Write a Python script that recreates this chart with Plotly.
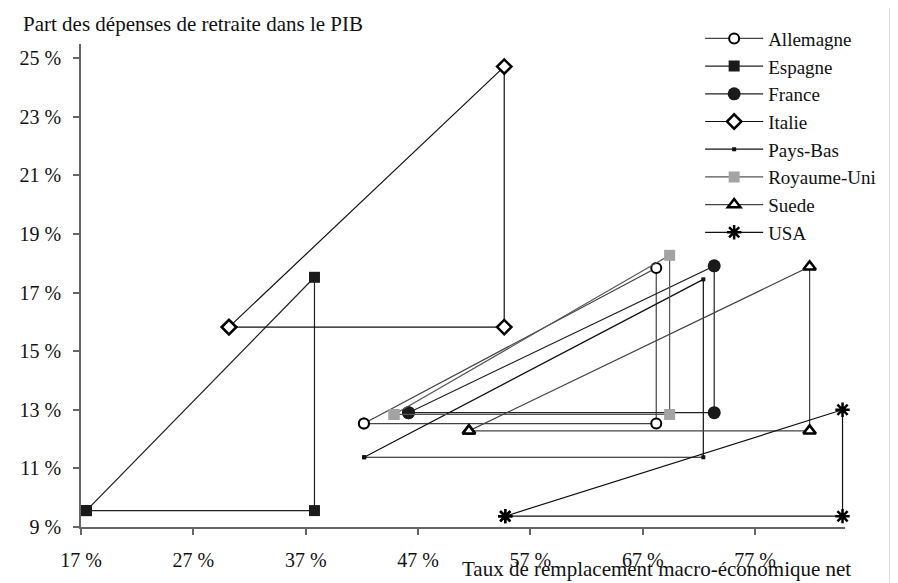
import plotly.graph_objects as go

countries = ["Allemagne", "Espagne", "France", "Italie", "Pays-Bas", "Royaume-Uni", "Suede", "USA"]
x_left = [42.18, 17.48, 46.15, 30.17, 42.20, 44.86, 51.53, 54.76]
y_left = [12.53, 9.56, 12.90, 15.82, 11.38, 12.84, 12.28, 9.37]
x_right = [68.20, 37.78, 73.36, 54.67, 72.39, 69.39, 81.85, 84.78]
y_right_top = [17.84, 17.52, 17.91, 24.71, 17.45, 18.27, 17.88, 13.00]
y_right_bottom = [12.53, 9.56, 12.90, 15.82, 11.38, 12.84, 12.28, 9.37]

x_ticks = [17, 27, 37, 47, 57, 67, 77]
y_ticks = [9, 11, 13, 15, 17, 19, 21, 23, 25]
x_title = "Taux de remplacement macro-économique net"
y_title = "Part des dépenses de retraite dans le PIB"

styles = {
    "Allemagne": dict(symbol="circle", size=10, color="white", line=dict(color="black", width=2), lc="#444"),
    "Espagne": dict(symbol="square", size=11, color="#1a1a1a", line=dict(color="#1a1a1a", width=0), lc="#222"),
    "France": dict(symbol="circle", size=13, color="#1a1a1a", line=dict(color="#1a1a1a", width=0), lc="#222"),
    "Italie": dict(symbol="diamond", size=11, color="white", line=dict(color="black", width=2.5), lc="#111"),
    "Pays-Bas": dict(symbol="square", size=4, color="#111", line=dict(color="#111", width=0), lc="#111"),
    "Royaume-Uni": dict(symbol="square", size=11, color="#a3a3a3", line=dict(color="#a3a3a3", width=0), lc="#555"),
    "Suede": dict(symbol="triangle-up", size=11, color="white", line=dict(color="black", width=2.5), lc="#444"),
    "USA": dict(symbol="asterisk-open", size=12, color="black", line=dict(color="black", width=2.5), lc="#111"),
}

FONT = "Liberation Serif, Times New Roman, Times, serif"
fig = go.Figure()
for i, c in enumerate(countries):
    s = styles[c]
    fig.add_trace(go.Scatter(
        x=[x_left[i], x_right[i], x_right[i], x_left[i]],
        y=[y_left[i], y_right_top[i], y_right_bottom[i], y_left[i]],
        mode="lines+markers",
        name=c,
        line=dict(color=s["lc"], width=1.2),
        marker=dict(symbol=s["symbol"], size=s["size"], color=s["color"], line=s["line"]),
        cliponaxis=False,
    ))

# the page body has an 8px margin: figure is sized/offset to compensate
fig.update_layout(
    width=890, height=575,
    margin=dict(l=65, r=53, t=32, b=55),
    plot_bgcolor="white", paper_bgcolor="white",
    font=dict(family=FONT, size=20, color="#111"),
    showlegend=True,
    legend=dict(x=0.8104, y=1.0506, xanchor="left", yanchor="top",
                bgcolor="rgba(0,0,0,0)", font=dict(family=FONT, size=19),
                itemwidth=58, tracegroupgap=0),
    xaxis=dict(range=[17, 85], tickvals=x_ticks, ticktext=[f"{v} %" for v in x_ticks],
               showgrid=False, zeroline=False, showline=True, linecolor="#666", linewidth=1.5,
               ticks="outside", ticklen=6, tickcolor="#666", tickwidth=1.5,
               ticklabelstandoff=8),
    yaxis=dict(range=[9, 25.48], tickvals=y_ticks, ticktext=[f"{v} %" for v in y_ticks],
               showgrid=False, zeroline=False, showline=True, linecolor="#666", linewidth=1.5,
               ticks="outside", ticklen=6, tickcolor="#666", tickwidth=1.5,
               ticklabelstandoff=8),
    annotations=[
        dict(text=y_title, xref="paper", yref="paper", x=-0.0785, y=1.041,
             xanchor="left", yanchor="middle", showarrow=False, font=dict(family=FONT, size=21)),
        dict(text=x_title, xref="paper", yref="paper", x=1.0104, y=-0.087,
             xanchor="right", yanchor="middle", showarrow=False, font=dict(family=FONT, size=21)),
    ],
    shapes=[dict(type="line", xref="paper", yref="paper", x0=1.0600, x1=1.0600, y0=-0.12, y1=1.08,
                 line=dict(color="#333", width=2), layer="above")],
)

fig.write_html("out.html")
